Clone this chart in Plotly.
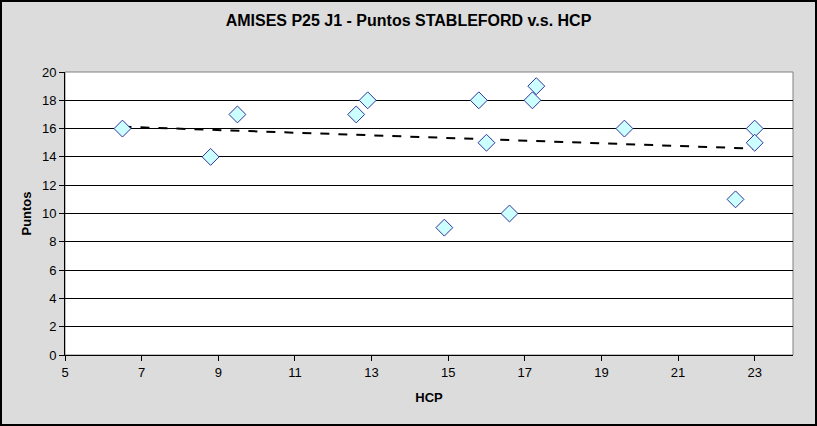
import numpy as np
import plotly.graph_objects as go

hcp = [6.5, 8.8, 9.5, 12.6, 12.9, 14.9, 15.8, 16.0, 16.6, 17.2, 17.3, 19.6, 22.5, 23.0, 23.0]
puntos = [16, 14, 17, 17, 18, 9, 18, 15, 10, 18, 19, 16, 11, 16, 15]
x_ticks = [5, 7, 9, 11, 13, 15, 17, 19, 21, 23]
y_ticks = [0, 2, 4, 6, 8, 10, 12, 14, 16, 18, 20]

W, H = 817, 426
ml, mr, mt, mb = 65, 24, 72, 71
pw, ph = W - ml - mr, H - mt - mb

slope, intercept = np.polyfit(hcp, puntos, 1)
tx = [min(hcp), max(hcp)]
ty = [slope * v + intercept for v in tx]

fig = go.Figure()
fig.add_trace(go.Scatter(x=tx, y=ty, mode="lines",
                         line=dict(color="black", width=2, dash="dash"),
                         hoverinfo="skip", showlegend=False))
fig.add_trace(go.Scatter(x=hcp, y=puntos, mode="markers",
                         marker=dict(symbol="diamond", size=13, color="#CCFFFF",
                                     line=dict(color="#333399", width=1)),
                         showlegend=False))

font = "Liberation Sans, Arial, sans-serif"
fig.update_layout(
    width=W, height=H,
    margin=dict(l=ml, r=mr, t=mt, b=mb),
    paper_bgcolor="#DCDCDC", plot_bgcolor="white",
    title=dict(text="<b>AMISES P25 J1 - Puntos STABLEFORD v.s. HCP</b>",
               x=0.5, xanchor="center", y=1 - 20 / H, yanchor="middle",
               font=dict(family=font, size=16, color="black")),
    xaxis=dict(range=[5, 24], tickvals=x_ticks, ticks="outside", ticklen=5,
               tickcolor="black", showgrid=False, zeroline=False,
               showline=True, linecolor="black", linewidth=1,
               tickfont=dict(family=font, size=13, color="black"),
               title=dict(text="<b>HCP</b>", standoff=14,
                          font=dict(family=font, size=13, color="black"))),
    yaxis=dict(range=[0, 20], tickvals=y_ticks, ticks="outside", ticklen=5,
               tickcolor="black", showgrid=True, gridcolor="black", gridwidth=1,
               zeroline=False, showline=True, linecolor="black", linewidth=1,
               tickfont=dict(family=font, size=13, color="black"),
               title=dict(text="<b>Puntos</b>", standoff=7,
                          font=dict(family=font, size=13, color="black"))),
    shapes=[
        dict(type="rect", xref="paper", yref="paper", x0=0, x1=1, y0=0, y1=1,
             line=dict(color="#808080", width=1), layer="below"),
        dict(type="rect", xref="paper", yref="paper",
             x0=-(ml - 1) / pw, x1=1 + (mr - 1) / pw,
             y0=-(mb - 1) / ph, y1=1 + (mt - 1) / ph,
             line=dict(color="black", width=2), fillcolor="rgba(0,0,0,0)"),
    ],
)
fig.write_html("out.html", config={"displayModeBar": False},
               post_script="document.body.style.margin='0';document.body.style.overflow='hidden';")
